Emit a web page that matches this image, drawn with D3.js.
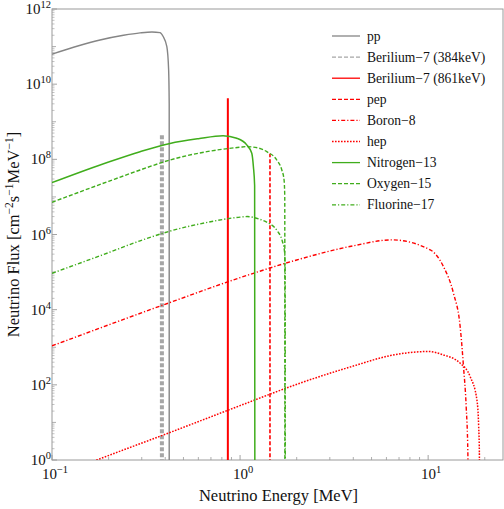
<!DOCTYPE html>
<html><head><meta charset="utf-8">
<script src="https://cdn.jsdelivr.net/npm/d3@7"></script>
<style>body{margin:0;background:#fff} svg{display:block}</style>
</head><body>
<svg id="chart" width="504" height="509"></svg>
<script>
// ---------- data (energy in MeV, flux in cm^-2 s^-1 MeV^-1) ----------
const xDomain = [0.1, 25];
const yDomain = [1, 1e12];
const xTickValues = [0.1, 1, 10];
const xTickExps = ["\u22121", "0", "1"];
const yTickValues = [1, 1e2, 1e4, 1e6, 1e8, 1e10, 1e12];
const yTickExps = ["0", "2", "4", "6", "8", "10", "12"];

const ppE  = [0.1, 0.14, 0.18, 0.24, 0.294, 0.34, 0.375, 0.39, 0.408, 0.417, 0.4199, 0.42];
const ppF  = [6.3e10, 1.07e11, 1.5e11, 2.0e11, 2.32e11, 2.45e11, 2.35e11, 1.85e11, 1.0e11, 2.4e10, 3e9, 1e-2];

const n13E = [0.1, 0.2, 0.294, 0.424, 0.6, 0.812, 0.96, 1.085, 1.154, 1.177, 1.195, 1.199];
const n13F = [2.4e7, 8.5e7, 1.6e8, 2.65e8, 3.55e8, 4.27e8, 3.64e8, 2.42e8, 1.45e8, 6.4e7, 2e7, 1e-2];

const o15E = [0.1, 0.2, 0.294, 0.424, 0.665, 1.0, 1.085, 1.25, 1.387, 1.567, 1.667, 1.714, 1.728, 1.732];
const o15F = [7.2e6, 2.6e7, 5.2e7, 9.6e7, 1.6e8, 2.1e8, 2.18e8, 2.0e8, 1.6e8, 9.6e7, 5.2e7, 2.8e7, 1e7, 1e-2];

const f17E = [0.1, 0.2, 0.294, 0.424, 0.67, 1.0, 1.09, 1.255, 1.393, 1.574, 1.675, 1.722, 1.736, 1.74];
const f17F = [9.3e4, 3.3e5, 6.8e5, 1.23e6, 2.1e6, 2.9e6, 3.0e6, 2.6e6, 2.1e6, 1.26e6, 6.8e5, 3.6e5, 1.26e5, 1e-2];

const b8E  = [0.1, 0.424, 1.0, 2.0, 4.0, 6.4, 10.26, 12.06, 13.63, 14.8, 15.41, 15.93, 16.26, 16.4];
const b8F  = [1.09e3, 1.55e4, 7.1e4, 2.1e5, 5.0e5, 7.2e5, 3.9e5, 1.4e5, 2.75e4, 3.5e3, 3.1e2, 26, 1.5, 1e-2];

const hepE = [0.15, 0.173, 0.424, 1.0, 2.085, 4.0, 6.3, 10.0, 12.0, 14.8, 16.72, 18.16, 18.56, 18.72, 18.77];
const hepF = [0.76, 1.0, 5.4, 28, 111, 316, 600, 770, 630, 377, 166, 40, 7.9, 1.6, 1e-2];

const lineNames = ["Berilium\u22127 (384keV)", "Berilium\u22127 (861keV)", "pep"];
const lineE = [0.384, 0.861, 1.442];
const linePeak = [4.8e8, 4.2e9, 1.4e8];

const legendLabels = ["pp", "Berilium\u22127 (384keV)", "Berilium\u22127 (861keV)", "pep",
  "Boron\u22128", "hep", "Nitrogen\u221213", "Oxygen\u221215", "Fluorine\u221217"];

// ---------- styles ----------
const FONT = "Liberation Serif";
const RED = "#ff0000", GREEN = "#40ad1c", GRAY = "#858585", LGRAY = "#a6a6a6";
const styles = {
  "pp": {color: GRAY, dash: null, w: 1.4},
  "Berilium\u22127 (384keV)": {color: LGRAY, dash: "4,2", w: 1.3, wPlot: 4},
  "Berilium\u22127 (861keV)": {color: RED, dash: null, w: 1.4, wPlot: 2},
  "pep": {color: RED, dash: "4,2", w: 1.4, wPlot: 1.6},
  "Boron\u22128": {color: RED, dash: "4,2,1.2,2", w: 1.4},
  "hep": {color: RED, dash: "1.6,1.4", w: 1.5},
  "Nitrogen\u221213": {color: GREEN, dash: null, w: 1.5},
  "Oxygen\u221215": {color: GREEN, dash: "4,2", w: 1.4},
  "Fluorine\u221217": {color: GREEN, dash: "4,2,1.2,2", w: 1.4}
};

const spectra = [
  {name: "pp", E: ppE, F: ppF},
  {name: "Boron\u22128", E: b8E, F: b8F},
  {name: "hep", E: hepE, F: hepF},
  {name: "Nitrogen\u221213", E: n13E, F: n13F},
  {name: "Oxygen\u221215", E: o15E, F: o15F},
  {name: "Fluorine\u221217", E: f17E, F: f17F}
];

// ---------- layout ----------
const L = 52, R = 503, T = 9, B = 460;
const svg = d3.select("#chart");
const x = d3.scaleLog().domain(xDomain).range([L, R]);
const y = d3.scaleLog().domain(yDomain).range([B, T]);
const AX = "#9a9a9a";
const INK = "#111";

svg.append("defs").append("clipPath").attr("id", "clip")
  .append("rect").attr("x", L).attr("y", T).attr("width", R - L).attr("height", B - T);

// minor / major ticks (inside)
const g = svg.append("g");
const xMinor = [];
for (let d = -1; d <= 1; d++) for (let k = 2; k <= 9; k++) { const v = k * Math.pow(10, d); if (v <= xDomain[1]) xMinor.push(v); }
g.selectAll(".xm").data(xMinor).enter().append("line")
  .attr("x1", d => x(d)).attr("x2", d => x(d)).attr("y1", B).attr("y2", B - 3)
  .attr("stroke", AX).attr("stroke-width", 0.8);
g.selectAll(".xM").data(xTickValues).enter().append("line")
  .attr("x1", d => x(d)).attr("x2", d => x(d)).attr("y1", B).attr("y2", B - 5)
  .attr("stroke", AX).attr("stroke-width", 0.9);

const yMinor = [];
for (let d = 0; d < 12; d++) for (let k = 2; k <= 9; k++) yMinor.push(k * Math.pow(10, d));
const yOdd = [];
for (let d = 1; d < 12; d += 2) yOdd.push(Math.pow(10, d));
g.selectAll(".ym").data(yMinor).enter().append("line")
  .attr("x1", L).attr("x2", L + 2.5).attr("y1", d => y(d)).attr("y2", d => y(d))
  .attr("stroke", AX).attr("stroke-width", 0.6);
g.selectAll(".yo").data(yOdd).enter().append("line")
  .attr("x1", L).attr("x2", L + 4).attr("y1", d => y(d)).attr("y2", d => y(d))
  .attr("stroke", AX).attr("stroke-width", 0.8);
g.selectAll(".yM").data(yTickValues).enter().append("line")
  .attr("x1", L).attr("x2", L + 5).attr("y1", d => y(d)).attr("y2", d => y(d))
  .attr("stroke", AX).attr("stroke-width", 0.9);

// frame
svg.append("rect").attr("x", L).attr("y", T).attr("width", R - L).attr("height", B - T)
  .attr("fill", "none").attr("stroke", AX).attr("stroke-width", 1);

// tick labels
yTickValues.forEach((v, i) => {
  const t = svg.append("text").attr("x", L - 1).attr("y", y(v) + 5)
    .attr("font-family", FONT).attr("fill", INK)
    .attr("text-anchor", "end").attr("font-size", 15);
  t.append("tspan").text("10");
  t.append("tspan").attr("dy", -6).attr("font-size", 10.5).text(yTickExps[i]);
});
xTickValues.forEach((v, i) => {
  const t = svg.append("text").attr("x", x(v) + 3).attr("y", 479)
    .attr("font-family", FONT).attr("fill", INK)
    .attr("text-anchor", "middle").attr("font-size", 15);
  t.append("tspan").text("10");
  t.append("tspan").attr("dy", -6).attr("font-size", 10.5).text(xTickExps[i]);
});

// axis titles
svg.append("text").attr("x", (L + R) / 2 + 1).attr("y", 501).attr("text-anchor", "middle")
  .attr("font-family", FONT).attr("fill", INK).attr("font-size", 16.5).text("Neutrino Energy [MeV]");
const yt = svg.append("text").attr("transform", `translate(19,${(T + B) / 2}) rotate(-90)`)
  .attr("font-family", FONT).attr("text-anchor", "middle").attr("fill", INK).attr("font-size", 16.5);
yt.append("tspan").text("Neutrino Flux [cm");
yt.append("tspan").attr("dy", -6).attr("font-size", 11.5).text("\u22122");
yt.append("tspan").attr("dy", 6).text("s");
yt.append("tspan").attr("dy", -6).attr("font-size", 11.5).text("\u22121");
yt.append("tspan").attr("dy", 6).text("MeV");
yt.append("tspan").attr("dy", -6).attr("font-size", 11.5).text("\u22121");
yt.append("tspan").attr("dy", 6).text("]");

// curves
const plot = svg.append("g").attr("clip-path", "url(#clip)");
const lineGen = d3.line().x(d => x(d[0])).y(d => y(d[1])).curve(d3.curveMonotoneX);
const straight = d3.line().x(d => x(d[0])).y(d => y(d[1]));

// delta lines
lineNames.forEach((n, i) => {
  const s = styles[n];
  plot.append("path")
    .attr("d", straight([[lineE[i], 1e-2], [lineE[i], linePeak[i]]]))
    .attr("fill", "none").attr("stroke", s.color).attr("stroke-width", s.wPlot)
    .attr("stroke-dasharray", s.dash);
});

spectra.forEach(sp => {
  const s = styles[sp.name];
  const pts = sp.E.map((e, i) => [e, sp.F[i]]);
  plot.append("path").attr("d", lineGen(pts))
    .attr("fill", "none").attr("stroke", s.color).attr("stroke-width", s.w)
    .attr("stroke-dasharray", s.dash);
});

// legend
legendLabels.forEach((n, i) => {
  const s = styles[n];
  const yy = 36 + i * 21.1;
  svg.append("line").attr("x1", 332).attr("x2", 360).attr("y1", yy).attr("y2", yy)
    .attr("stroke", s.color).attr("stroke-width", 1.3).attr("stroke-dasharray", s.dash);
  svg.append("text").attr("x", 367).attr("y", yy + 4.5).attr("fill", INK)
    .attr("font-family", FONT).attr("font-size", 13.6).text(n);
});
</script>
</body></html>
